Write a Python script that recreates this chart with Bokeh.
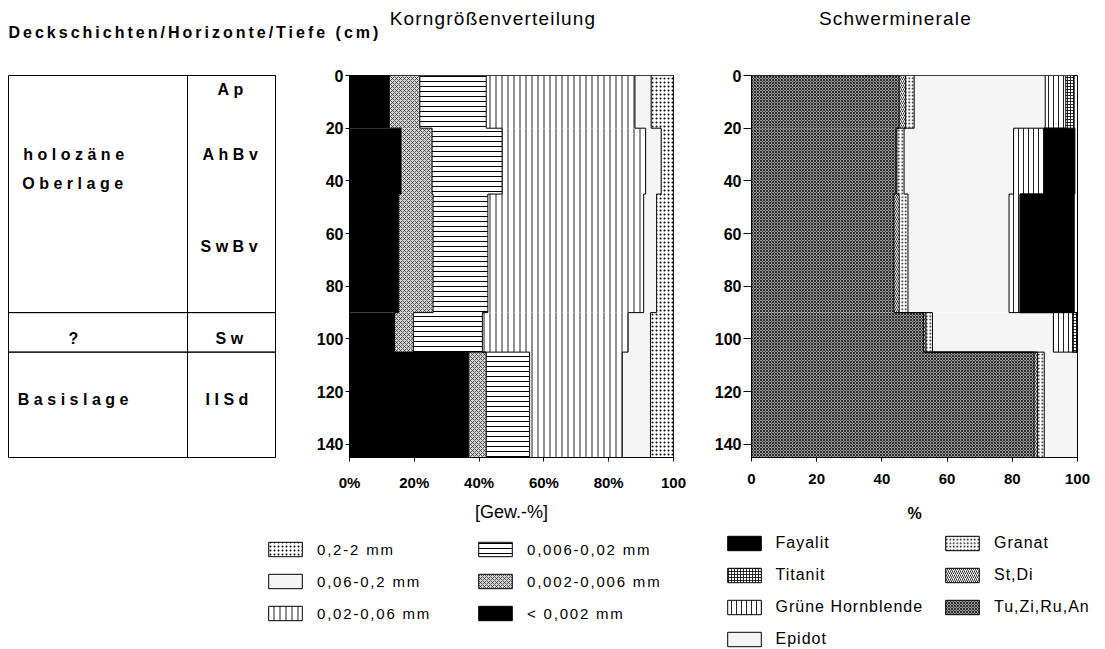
from bokeh.plotting import figure
from bokeh.layouts import row, column
from bokeh.models import Range1d, FixedTicker, Legend, LegendItem, ColumnDataSource, Spacer
from bokeh.embed import file_html
from bokeh.resources import INLINE
from bokeh.core.properties import value

# ---------------- data ----------------
depth_top = [0, 20, 45, 90, 105]
depth_bottom = [20, 45, 90, 105, 145]
depth_ticks = [0, 20, 40, 60, 80, 100, 120, 140]
pct_ticks = [0, 20, 40, 60, 80, 100]
grain_tick_labels = ["0%", "20%", "40%", "60%", "80%", "100"]

# grain size fractions (Gew.-%), stacked left to right
grain_labels = ["< 0,002 mm", "0,002-0,006 mm", "0,006-0,02 mm", "0,02-0,06 mm", "0,06-0,2 mm", "0,2-2 mm"]
clay = [12.3, 15.9, 15.2, 13.9, 36.8]
fine_silt = [9.4, 9.6, 10.6, 5.8, 5.4]
medium_silt = [20.5, 21.6, 16.9, 21.3, 13.4]
coarse_silt = [45.9, 44.3, 48.1, 45.0, 28.6]
fine_sand = [5.0, 4.8, 4.0, 6.9, 8.7]
sand = [6.9, 3.8, 5.2, 7.1, 7.1]
grain_values = [clay, fine_silt, medium_silt, coarse_silt, fine_sand, sand]

# heavy minerals (%), stacked left to right
mineral_labels = ["Tu,Zi,Ru,An", "St,Di", "Granat", "Epidot", "Grüne Hornblende", "Titanit", "Fayalit"]
tu_zi_ru_an = [45.3, 44.3, 43.7, 52.8, 86.7]
st_di = [2.0, 0.3, 1.6, 0.7, 1.0]
granat = [2.6, 2.2, 2.7, 2.0, 2.1]
epidot = [40.2, 33.6, 31.0, 37.1, 10.2]
hornblende = [6.3, 9.4, 3.4, 5.9, 0.0]
titanit = [2.5, 0.0, 0.0, 1.3, 0.0]
fayalit = [0.0, 9.4, 16.6, 0.0, 0.0]
mineral_values = [tu_zi_ru_an, st_di, granat, epidot, hornblende, titanit, fayalit]

# profile table
table_row_edges = [0, 90, 105, 145]
table_labels = ["holozäne", "Oberlage", "?", "Basislage", "Ap", "AhBv", "SwBv", "Sw", "IISd"]
table_label_depth = [30, 41, 100, 123, 5.5, 30, 65, 100, 123]

# ---------------- styles ----------------
FONT = "Liberation Sans"
grain_styles = {
    "< 0,002 mm": dict(fill_color="black"),
    "0,002-0,006 mm": dict(fill_color="#d6d6d6", hatch_pattern="diagonal_cross", hatch_scale=4, hatch_weight=0.8, hatch_color="#333333"),
    "0,006-0,02 mm": dict(fill_color="white", hatch_pattern="horizontal_line", hatch_scale=5, hatch_weight=1, hatch_color="black"),
    "0,02-0,06 mm": dict(fill_color="white", hatch_pattern="vertical_line", hatch_scale=6, hatch_weight=1, hatch_color="#222222"),
    "0,06-0,2 mm": dict(fill_color="#f5f5f5"),
    "0,2-2 mm": dict(fill_color="white", hatch_pattern="dot", hatch_scale=4, hatch_weight=3, hatch_color="black"),
}
mineral_styles = {
    "Tu,Zi,Ru,An": dict(fill_color="#9a9a9a", hatch_pattern="diagonal_cross", hatch_scale=3, hatch_weight=0.8, hatch_color="#111111"),
    "St,Di": dict(fill_color="white", hatch_pattern="right_diagonal_line", hatch_scale=4, hatch_weight=0.8, hatch_color="black"),
    "Granat": dict(fill_color="white", hatch_pattern="dot", hatch_scale=3.5, hatch_weight=2.5, hatch_color="black"),
    "Epidot": dict(fill_color="#f5f5f5"),
    "Grüne Hornblende": dict(fill_color="white", hatch_pattern="vertical_line", hatch_scale=5, hatch_weight=1, hatch_color="#222222"),
    "Titanit": dict(fill_color="white", hatch_pattern="cross", hatch_scale=3, hatch_weight=0.8, hatch_color="black"),
    "Fayalit": dict(fill_color="black"),
}

ROW_H = 482
MB_TOP = 27      # frames of the row run from y=75 to y=457 on the page
MB_BOTTOM = 73


def base_fig(width, height, **kw):
    p = figure(width=width, height=height, toolbar_location=None, output_backend="svg", title=None, **kw)
    p.background_fill_color = "white"
    p.border_fill_color = "white"
    return p


def blank_fig(width, height, xr, yr):
    p = base_fig(width, height, x_range=Range1d(*xr), y_range=Range1d(*yr),
                 min_border_left=0, min_border_right=0, min_border_top=0, min_border_bottom=0,
                 x_axis_location=None, y_axis_location=None)
    p.grid.visible = False
    p.outline_line_color = None
    return p


def stacked_chart(width, mb_left, mb_right, labels, values, styles,
                  tick_labels, axis_label, axis_label_size, axis_label_style, ytick_out, axis_label_standoff):
    p = base_fig(width, ROW_H, x_range=Range1d(0, 100), y_range=Range1d(145, 0),
                 min_border_left=mb_left, min_border_right=mb_right,
                 min_border_top=MB_TOP, min_border_bottom=MB_BOTTOM)
    p.grid.visible = False
    p.outline_line_color = "black"
    p.outline_line_width = 1
    cum = [0.0] * len(depth_top)
    edges = []
    for lab, vals in zip(labels, values):
        right = [c + v for c, v in zip(cum, vals)]
        src = ColumnDataSource(dict(left=cum, right=right, top=depth_top, bottom=depth_bottom))
        p.quad(left="left", right="right", top="top", bottom="bottom", source=src,
               line_color=None, **styles[lab])
        edges.append(right)
        cum = right
    xs, ys = [], []
    for e in edges:
        lx, ly = [], []
        for i in range(len(depth_top)):
            lx += [e[i], e[i]]
            ly += [depth_top[i], depth_bottom[i]]
        xs.append(lx)
        ys.append(ly)
    p.multi_line(xs=xs, ys=ys, line_color="black", line_width=1)

    p.xaxis.ticker = FixedTicker(ticks=pct_ticks)
    p.xaxis.major_label_overrides = {t: s for t, s in zip(pct_ticks, tick_labels)}
    p.yaxis.ticker = FixedTicker(ticks=depth_ticks)
    for ax in (p.xaxis[0], p.yaxis[0]):
        ax.axis_line_color = "black"
        ax.axis_line_width = 1
        ax.major_tick_line_color = "black"
        ax.major_tick_in = 0
        ax.minor_tick_line_color = None
        ax.major_label_text_font = FONT
        ax.major_label_text_font_style = "bold"
        ax.major_label_text_font_size = "15px"
        ax.major_label_text_color = "black"
    p.xaxis.major_tick_out = 4
    p.xaxis.major_label_standoff = 12
    p.yaxis.major_tick_out = ytick_out
    p.yaxis.major_label_standoff = 2
    p.yaxis.major_label_text_font_size = "16px"
    p.xaxis.axis_label = axis_label
    p.xaxis.axis_label_text_font = FONT
    p.xaxis.axis_label_text_font_style = axis_label_style
    p.xaxis.axis_label_text_font_size = axis_label_size
    p.xaxis.axis_label_text_color = "black"
    p.xaxis.axis_label_standoff = axis_label_standoff
    return p


# ---------------- top strip ----------------
STRIP_H = 48
deck = blank_fig(389, STRIP_H, (0, 389), (STRIP_H, 0))
deck.text(x=[8], y=[32], text=["Deckschichten/Horizonte/Tiefe (cm)"], text_align="left", text_baseline="middle",
          text_font=value(FONT), text_font_size=value("16px"), text_font_style="bold", text_color="black")
deck.styles = {"letter-spacing": "3px"}

t1 = blank_fig(207, STRIP_H, (0, 207), (STRIP_H, 0))
t1.text(x=[91.5], y=[18], text=["Korngrößenverteilung"], text_align="center", text_baseline="middle",
        text_font=value(FONT), text_font_size=value("19px"), text_color="black")
t1.styles = {"letter-spacing": "1.2px"}
t2 = blank_fig(412, STRIP_H, (0, 412), (STRIP_H, 0))
t2.text(x=[193.6], y=[18], text=["Schwerminerale"], text_align="center", text_baseline="middle",
        text_font=value(FONT), text_font_size=value("19px"), text_color="black")
t2.styles = {"letter-spacing": "1.2px"}
strip = row(deck, t1, Spacer(width=97, height=STRIP_H), t2, spacing=0)

# ---------------- table ----------------
table = base_fig(306, ROW_H, x_range=Range1d(0, 267), y_range=Range1d(145, 0),
                 min_border_left=8, min_border_right=31, min_border_top=MB_TOP, min_border_bottom=MB_BOTTOM,
                 x_axis_location=None, y_axis_location=None)
table.grid.visible = False
table.outline_line_color = "black"
table.outline_line_width = 1
col_edges = [0, 179, 267]
cl, cr, ct, cb = [], [], [], []
for c in range(2):
    for r in range(3):
        cl.append(col_edges[c]); cr.append(col_edges[c + 1])
        ct.append(table_row_edges[r]); cb.append(table_row_edges[r + 1])
table.quad(left=cl, right=cr, top=ct, bottom=cb, fill_color=None, line_color="black", line_width=1)
table_label_x = [14.7, 13.7, 60, 9.3, 209, 194, 192, 207, 197]
table.text(x=table_label_x, y=table_label_depth, text=table_labels, text_align="left", text_baseline="middle",
           text_font=value(FONT), text_font_size=value("16px"), text_font_style="bold", text_color="black")
table.styles = {"letter-spacing": "4.5px"}

# ---------------- charts ----------------
left = stacked_chart(384, 43, 17, grain_labels, grain_values, grain_styles,
                     grain_tick_labels, "[Gew.-%]", "18px", "normal", 4, 8)
right = stacked_chart(415, 61, 28, mineral_labels, mineral_values, mineral_styles,
                      [str(t) for t in pct_ticks], "%", "16px", "bold", 8, 18)
charts = row(table, left, right, spacing=0)

# ---------------- legends ----------------
LEG_H = 119
legend_anchor = [5], [6], [5], [6]   # swatch geometry outside the view, only used to draw legend swatches


def legend_block(fig, labels, styles, x, y, spacing, font_size):
    items = []
    for lab in labels:
        r = fig.quad(left=legend_anchor[0], right=legend_anchor[1], top=legend_anchor[2], bottom=legend_anchor[3],
                     line_color="black", line_width=1, **styles[lab])
        items.append(LegendItem(label=lab, renderers=[r]))
    leg = Legend(items=items, location=(x, y), orientation="vertical", glyph_width=42, glyph_height=18,
                 label_height=18, spacing=spacing, padding=0, margin=0, border_line_color=None,
                 background_fill_alpha=0, label_standoff=11, label_text_font=FONT,
                 label_text_font_size=font_size, label_text_color="black")
    fig.add_layout(leg)


leg_left = blank_fig(700, LEG_H, (0, 1), (0, 1))
legend_block(leg_left, ["0,2-2 mm", "0,06-0,2 mm", "0,02-0,06 mm"], grain_styles, 264, 27, 14, "15px")
legend_block(leg_left, ["0,006-0,02 mm", "0,002-0,006 mm", "< 0,002 mm"], grain_styles, 474, 27, 14, "15px")
leg_left.styles = {"letter-spacing": "1.8px"}

leg_right = blank_fig(405, LEG_H, (0, 1), (0, 1))
legend_block(leg_right, ["Fayalit", "Titanit", "Grüne Hornblende", "Epidot"], mineral_styles, 22.5, 1, 14, "16px")
legend_block(leg_right, ["Granat", "St,Di", "Tu,Zi,Ru,An"], mineral_styles, 241, 33, 14, "16px")
leg_right.styles = {"letter-spacing": "1px"}
legends = row(leg_left, leg_right, spacing=0)

layout = column(strip, charts, legends, spacing=0)

open("out.html", "w").write(file_html(layout, INLINE))
